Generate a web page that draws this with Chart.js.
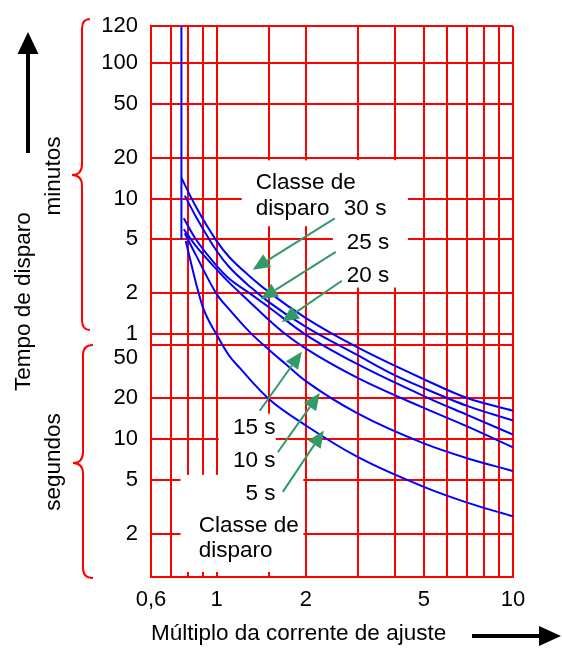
<!DOCTYPE html>
<html>
<head>
<meta charset="utf-8">
<script src="https://cdn.jsdelivr.net/npm/chart.js@4.4.1/dist/chart.umd.min.js"></script>
<style>
html,body{margin:0;padding:0;background:#ffffff;}
canvas{display:block;}
</style>
</head>
<body>
<canvas id="c" width="562" height="650"></canvas>
<script>
// ---------------- data ----------------
// each point: [multiple of the setting current, trip time in seconds]
const classLabels = ["30 s", "25 s", "20 s", "15 s", "10 s", "5 s"];
const curve30 = [[0.76,854],[0.85,524],[1.0,291],[1.1,223],[1.3,158],[1.5,122],[2.0,78.5],[3.0,47.4],[5.0,27.7],[7.0,20.1],[10,16.2]];
const curve25 = [[0.78,631],[0.85,443],[1.0,246],[1.1,188],[1.3,133],[1.5,103],[2.0,67.5],[3.0,41.5],[4.0,29.6],[5.0,23.8],[7.0,17.6],[10,13.7]];
const curve20 = [[0.774,429],[0.85,300],[1.0,191],[1.1,154],[1.3,118.5],[1.5,94.4],[2.0,59],[3.0,35.6],[5.0,20.8],[7.0,15.1],[10,10.8]];
const curve15 = [[0.774,356],[0.85,268],[1.0,179],[1.1,144],[1.3,102],[1.5,75.9],[1.7,60],[2.0,46.6],[3.0,28.2],[5.0,17.0],[7.0,12.4],[10,8.68]];
const curve10 = [[0.78,333],[0.85,230],[1.0,118],[1.1,91.3],[1.3,61],[1.5,45.8],[1.7,36.2],[2.0,26.8],[3.0,15.4],[5.0,9.29],[7.0,7.22],[10,5.8]];
const curve5  = [[0.786,291],[0.85,144],[0.9,92.9],[1.0,59],[1.1,41.5],[1.2,33.3],[1.5,19.8],[2.0,12.6],[3.0,7.34],[5.0,4.43],[7.0,3.39],[10,2.68]];
const asymptote = [[0.76,7200],[0.76,300]];

// axis ticks
const xTickValues = [0.6,0.7,0.8,0.9,1,1.5,2,3,4,5,6,7,8,9,10];
const xLabelValues = [0.6,1,2,5,10];
const xLabelTexts = ["0,6","1","2","5","10"];
const yTickSeconds = [2,5,10,20,50,60,120,300,600,1200,3000,6000,7200];
const yTickLabels  = ["2","5","10","20","50","1","2","5","10","20","50","100","120"];

// annotations (anchored in data coordinates: multiple, seconds)
const noteTexts = [
  {text:"Classe de", m:1.354, s:710,  align:"left"},
  {text:"disparo",   m:1.354, s:451,  align:"left"},
  {text:"30 s",      m:2.686, s:451,  align:"left"},
  {text:"25 s",      m:2.749, s:254.6,align:"left"},
  {text:"20 s",      m:2.749, s:146.2,align:"left"},
  {text:"15 s",      m:1.58,  s:10.99,align:"right"},
  {text:"10 s",      m:1.58,  s:6.2,  align:"right"},
  {text:"5 s",       m:1.58,  s:3.56, align:"right"},
  {text:"Classe de", m:0.8694,s:2.046,align:"left"},
  {text:"disparo",   m:0.8694,s:1.344,align:"left"}
];
const arrowsData = [
  {from:[2.503,428.7], to:[1.323,178.9]},
  {from:[2.523,242.1], to:[1.408,108.1]},
  {from:[2.644,148],   to:[1.658,73.4]},
  {from:[1.397,16.2],  to:[1.937,44.3]},
  {from:[1.607,7.99],  to:[2.228,21.9]},
  {from:[1.671,4.07],  to:[2.299,11.56]}
];
const labelBoxes = [
  {m0:1.215, m1:4.42, s0:1150, s1:375},
  {m0:2.466, m1:4.42, s0:1150, s1:132},
  {m0:1.015, m1:1.582,s0:15.4, s1:3.55},
  {m0:0.755, m1:1.96, s0:5.43, s1:1.04}
];

// ---------------- time axis: logarithmic in seconds, top band (100..120 min) stretched ----------------
const Y_SPLIT = 6000, Y_TOP = 7200, Y_STRETCH = 3.47, Y_MIN_U = -0.02;
function T(s){
  const l = Math.log10(s), ls = Math.log10(Y_SPLIT);
  return s <= Y_SPLIT ? l : ls + (l - ls) * Y_STRETCH;
}

const FONT = '"Liberation Sans", Arial, Helvetica, sans-serif';
Chart.defaults.font.family = FONT;
Chart.defaults.color = '#000000';

const RED = '#ff0000', BLUE = '#0000ff', GREEN = '#339966';

function toXY(arr){ return arr.map(p => ({x:p[0], y:T(p[1])})); }
const curves = [curve30, curve25, curve20, curve15, curve10, curve5];
const datasets = curves.map((c,i) => ({
  label: classLabels[i], data: toXY(c), borderColor: BLUE, borderWidth: 2,
  pointRadius: 0, fill: false, cubicInterpolationMode: 'monotone'
}));
datasets.push({label:'limite', data: toXY(asymptote), borderColor: BLUE, borderWidth: 2, pointRadius: 0, fill:false, tension:0});

function px(chart, m){ return chart.scales.x.getPixelForValue(m); }
function py(chart, s){ return chart.scales.y.getPixelForValue(T(s)); }

const decor = {
  id: 'decor',
  beforeDatasetsDraw(chart){
    const ctx = chart.ctx;
    ctx.save();
    ctx.fillStyle = '#ffffff';
    labelBoxes.forEach(b => {
      const x0 = px(chart,b.m0), x1 = px(chart,b.m1), y0 = py(chart,b.s0), y1 = py(chart,b.s1);
      ctx.fillRect(x0, y0, x1-x0, y1-y0);
    });
    ctx.restore();
  },
  afterDatasetsDraw(chart){
    const ctx = chart.ctx;
    ctx.save();
    ctx.font = '22.5px ' + FONT;
    ctx.fillStyle = '#000000';
    ctx.textBaseline = 'alphabetic';
    noteTexts.forEach(t => {
      ctx.textAlign = t.align;
      ctx.fillText(t.text, px(chart,t.m), py(chart,t.s));
    });
    // green arrows
    ctx.strokeStyle = GREEN; ctx.fillStyle = GREEN; ctx.lineWidth = 2;
    arrowsData.forEach(a => {
      const x0 = px(chart,a.from[0]), y0 = py(chart,a.from[1]);
      const x1 = px(chart,a.to[0]),   y1 = py(chart,a.to[1]);
      const ang = Math.atan2(y1-y0, x1-x0);
      const L = 17, W = 7.5;
      const bx = x1 - L*Math.cos(ang), by = y1 - L*Math.sin(ang);
      ctx.beginPath(); ctx.moveTo(x0,y0); ctx.lineTo(bx,by); ctx.stroke();
      ctx.beginPath();
      ctx.moveTo(x1,y1);
      ctx.lineTo(bx + W*Math.sin(ang), by - W*Math.cos(ang));
      ctx.lineTo(bx - W*Math.sin(ang), by + W*Math.cos(ang));
      ctx.closePath(); ctx.fill();
    });
    ctx.restore();
  },
  afterDraw(chart){
    const ctx = chart.ctx;
    ctx.save();
    // black arrows
    ctx.strokeStyle = '#000'; ctx.fillStyle = '#000'; ctx.lineWidth = 4;
    ctx.beginPath(); ctx.moveTo(28,153); ctx.lineTo(28,50); ctx.stroke();
    ctx.beginPath(); ctx.moveTo(28,32); ctx.lineTo(17.5,54); ctx.lineTo(38.5,54); ctx.closePath(); ctx.fill();
    ctx.beginPath(); ctx.moveTo(472,636); ctx.lineTo(542,636); ctx.stroke();
    ctx.beginPath(); ctx.moveTo(561,636); ctx.lineTo(539,626); ctx.lineTo(539,646); ctx.closePath(); ctx.fill();
    // red braces
    ctx.strokeStyle = RED; ctx.lineWidth = 2;
    ctx.beginPath();
    ctx.moveTo(90,19); ctx.quadraticCurveTo(82,19,82,29); ctx.lineTo(82,164);
    ctx.quadraticCurveTo(82,175,72,175); ctx.quadraticCurveTo(82,175,82,186);
    ctx.lineTo(82,320); ctx.quadraticCurveTo(82,330,90,330); ctx.stroke();
    ctx.beginPath();
    ctx.moveTo(93,345); ctx.quadraticCurveTo(83,345,83,355); ctx.lineTo(83,452);
    ctx.quadraticCurveTo(83,463,73,463); ctx.quadraticCurveTo(83,463,83,474);
    ctx.lineTo(83,568); ctx.quadraticCurveTo(83,578,93,578); ctx.stroke();
    // band names
    ctx.fillStyle = '#000';
    ctx.font = '22.5px ' + FONT;
    ctx.textAlign = 'center'; ctx.textBaseline = 'alphabetic';
    [['minutos',176],['segundos',462]].forEach(([t,y]) => {
      ctx.save(); ctx.translate(60,y); ctx.rotate(-Math.PI/2); ctx.fillText(t,0,0); ctx.restore();
    });
    ctx.restore();
  }
};

new Chart(document.getElementById('c'), {
  type: 'line',
  data: { datasets },
  options: {
    responsive: false, animation: false, devicePixelRatio: 1,
    layout: { padding: { top: 19, right: 49, left: 0, bottom: 0 } },
    plugins: { legend: { display: false }, tooltip: { enabled: false } },
    scales: {
      x: {
        type: 'logarithmic', min: 0.6, max: 10,
        afterBuildTicks: s => { s.ticks = xTickValues.map(v => ({value: v})); },
        afterFit: s => { s.height = 73; },
        ticks: {
          autoSkip: false, maxRotation: 0, padding: 10, color: '#000', font: { size: 22 },
          callback: v => { const i = xLabelValues.indexOf(v); return i >= 0 ? xLabelTexts[i] : ''; }
        },
        grid: { color: RED, lineWidth: 2, drawTicks: false },
        border: { color: RED, width: 2 },
        title: { display: true, text: 'Múltiplo da corrente de ajuste', align: 'start',
                 color: '#000', font: { size: 22.5 }, padding: { top: 0, bottom: 3 } }
      },
      y: {
        type: 'linear', min: Y_MIN_U, max: T(Y_TOP),
        afterBuildTicks: s => { s.ticks = yTickSeconds.map(v => ({value: T(v)})); },
        afterFit: s => { s.width = 151; },
        ticks: {
          autoSkip: false, padding: 13, color: '#000', font: { size: 22 },
          callback: (v, i) => (yTickSeconds[i] === 50 ? ['', yTickLabels[i]] : yTickLabels[i])
        },
        grid: { color: RED, lineWidth: 2, drawTicks: false },
        border: { color: RED, width: 2 },
        title: { display: true, text: 'Tempo de disparo', color: '#000', font: { size: 22.5 },
                 padding: { top: 10, bottom: 0 } }
      }
    }
  },
  plugins: [decor]
});
</script>
</body>
</html>
